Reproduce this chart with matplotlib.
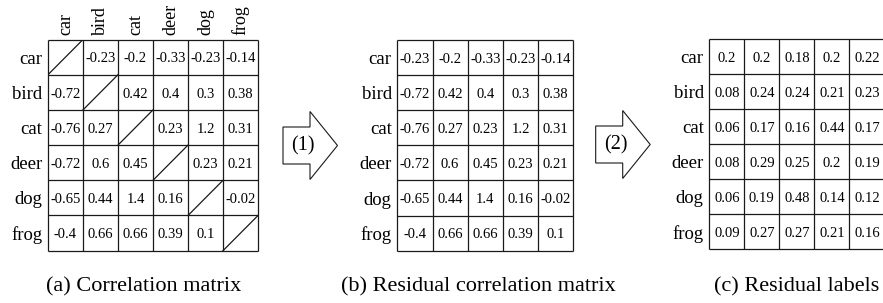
import numpy as np
import matplotlib
matplotlib.use("Agg")
import matplotlib.pyplot as plt
from matplotlib.patches import Polygon

plt.rcParams['font.family'] = ['Liberation Serif', 'DejaVu Serif']

classes = ["car", "bird", "cat", "deer", "dog", "frog"]
nan = np.nan
corr = [
    [nan, -0.23, -0.2, -0.33, -0.23, -0.14],
    [-0.72, nan, 0.42, 0.4, 0.3, 0.38],
    [-0.76, 0.27, nan, 0.23, 1.2, 0.31],
    [-0.72, 0.6, 0.45, nan, 0.23, 0.21],
    [-0.65, 0.44, 1.4, 0.16, nan, -0.02],
    [-0.4, 0.66, 0.66, 0.39, 0.1, nan],
]
residual_corr = [
    [-0.23, -0.2, -0.33, -0.23, -0.14],
    [-0.72, 0.42, 0.4, 0.3, 0.38],
    [-0.76, 0.27, 0.23, 1.2, 0.31],
    [-0.72, 0.6, 0.45, 0.23, 0.21],
    [-0.65, 0.44, 1.4, 0.16, -0.02],
    [-0.4, 0.66, 0.66, 0.39, 0.1],
]
residual_labels = [
    [0.2, 0.2, 0.18, 0.2, 0.22],
    [0.08, 0.24, 0.24, 0.21, 0.23],
    [0.06, 0.17, 0.16, 0.44, 0.17],
    [0.08, 0.29, 0.25, 0.2, 0.19],
    [0.06, 0.19, 0.48, 0.14, 0.12],
    [0.09, 0.27, 0.27, 0.21, 0.16],
]
captions = ["(a) Correlation matrix", "(b) Residual correlation matrix", "(c) Residual labels"]
steps = ["(1)", "(2)"]

W, H = 883, 303
fig = plt.figure(figsize=(W / 100, H / 100), dpi=100)

def px_axes(left, top, right, bottom):
    return fig.add_axes([left / W, 1 - bottom / H, (right - left) / W, (bottom - top) / H])

LC = "#1a1a1a"
LW = 0.9

def draw_matrix(ax, data, col_labels=None):
    m = np.array(data, dtype=float)
    nr, nc = m.shape
    ax.set_xlim(0, nc)
    ax.set_ylim(nr, 0)
    for s in ax.spines.values():
        s.set_visible(False)
    ax.vlines(np.arange(nc + 1), 0, nr, color=LC, lw=LW, clip_on=False)
    ax.hlines(np.arange(nr + 1), 0, nc, color=LC, lw=LW, clip_on=False)
    for i in range(nr):
        for j in range(nc):
            v = m[i, j]
            if np.isnan(v):
                ax.plot([j, j + 1], [i + 1, i], color=LC, lw=LW)
            else:
                ax.text(j + 0.5, i + 0.55, f"{v:g}", ha="center", va="center", fontsize=10.5)
    ax.set_yticks(np.arange(nr) + 0.5)
    ax.set_yticklabels(classes, fontsize=13.5)
    ax.tick_params(axis="y", length=0, pad=4)
    if col_labels is not None:
        ax.xaxis.tick_top()
        ax.set_xticks(np.arange(nc) + 0.5)
        ax.set_xticklabels(col_labels, rotation=90, fontsize=13)
        ax.tick_params(axis="x", length=0, pad=3)
    else:
        ax.set_xticks([])

ax_a = px_axes(48, 39.5, 258, 250.7)
draw_matrix(ax_a, corr, classes)
ax_b = px_axes(397.3, 40, 573.3, 250.7)
draw_matrix(ax_b, residual_corr)
ax_c = px_axes(709.3, 38.7, 884.5, 249.3)
draw_matrix(ax_c, residual_labels)

# arrows (decorations) in pixel coordinates
def arrow(x0, yc, label):
    bh, hh, bl, hl = 18.5, 34, 27, 27.5
    pts = [(x0, yc - bh), (x0 + bl, yc - bh), (x0 + bl, yc - hh), (x0 + bl + hl, yc),
           (x0 + bl, yc + hh), (x0 + bl, yc + bh), (x0, yc + bh)]
    pts = [(x / W, 1 - y / H) for x, y in pts]
    fig.patches.append(Polygon(pts, closed=True, fc="white", ec=LC, lw=0.8,
                               transform=fig.transFigure))
    fig.text((x0 + 20) / W, 1 - yc / H, label, ha="center", va="center", fontsize=14.5)

arrow(283, 145.5, steps[0])
arrow(595.7, 144.5, steps[1])

for cx, cap in zip([144, 478.5, 796.5], captions):
    fig.text(cx / W, 1 - 287 / H, cap, ha="center", va="center", fontsize=16)

fig.savefig("out.png", dpi=100)
